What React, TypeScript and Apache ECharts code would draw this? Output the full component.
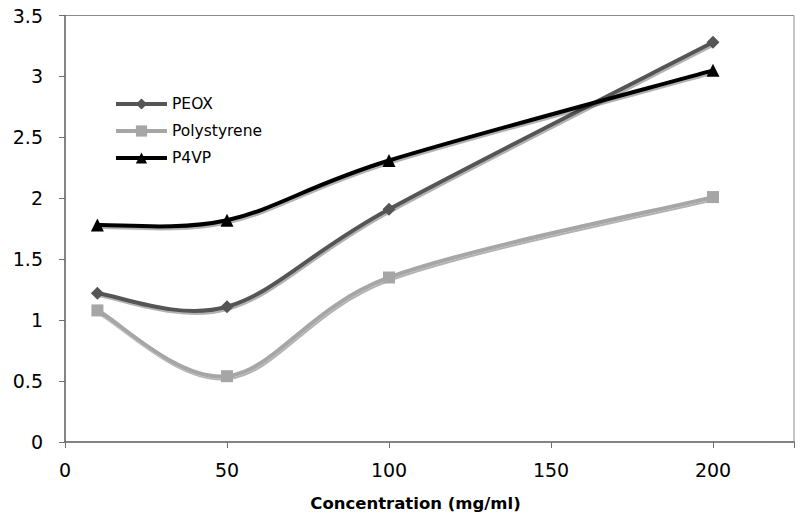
import React, { useEffect, useRef } from "react";
import * as echarts from "echarts";

const xValues = [10, 50, 100, 200];
const peox = [1.22, 1.11, 1.91, 3.28];
const polystyrene = [1.08, 0.54, 1.35, 2.01];
const p4vp = [1.78, 1.82, 2.31, 3.05];
const seriesNames = ["PEOX", "Polystyrene", "P4VP"];
const xTitle = "Concentration (mg/ml)";

const FONT = "DejaVu Sans, Verdana, sans-serif";
const colors = ["#555555", "#a6a6a6", "#000000"];
const symbols = ["diamond", "rect", "triangle"];
const symbolSizes = [13, 12, 13];
const allValues = [peox, polystyrene, p4vp];

// Excel-style smoothed curve (Catmull-Rom -> cubic Bezier) through the axis-mapped points
function curvePath(pts: number[][]): string {
  let d = `M${pts[0][0]},${pts[0][1]}`;
  for (let i = 0; i < pts.length - 1; i++) {
    const p0 = pts[i - 1] || pts[i];
    const p1 = pts[i];
    const p2 = pts[i + 1];
    const p3 = pts[i + 2] || pts[i + 1];
    const c1x = p1[0] + (p2[0] - p0[0]) / 6;
    const c1y = p1[1] + (p2[1] - p0[1]) / 6;
    const c2x = p2[0] - (p3[0] - p1[0]) / 6;
    const c2y = p2[1] - (p3[1] - p1[1]) / 6;
    d += ` C${c1x},${c1y} ${c2x},${c2y} ${p2[0]},${p2[1]}`;
  }
  return d;
}

export default function App() {
  const ref = useRef<HTMLDivElement>(null);
  useEffect(() => {
    if (!ref.current) return;
    const chart = echarts.init(ref.current, undefined, { renderer: "svg" });

    const curveSeries = allValues.map((vals, k) => ({
      name: seriesNames[k] + " curve",
      type: "custom",
      data: xValues.map((x, i) => [x, vals[i]]),
      encode: { x: 0, y: 1 },
      z: 2,
      silent: true,
      renderItem: (params: any, api: any) => {
        if (params.dataIndex !== 0) return null;
        const pts = xValues.map((x, i) => api.coord([x, vals[i]]));
        return {
          type: "path",
          shape: { pathData: curvePath(pts) },
          style: {
            fill: "none",
            stroke: colors[k],
            lineWidth: 4,
            lineJoin: "round",
            shadowColor: "rgba(0,0,0,0.3)",
            shadowOffsetX: 1,
            shadowOffsetY: 2,
            shadowBlur: 1,
          },
        };
      },
    }));

    const markerSeries = allValues.map((vals, k) => ({
      name: seriesNames[k],
      type: "line",
      data: xValues.map((x, i) => [x, vals[i]]),
      symbol: symbols[k],
      symbolSize: symbolSizes[k],
      showAllSymbol: true,
      itemStyle: { color: colors[k] },
      lineStyle: { color: colors[k], width: 4, opacity: 0 },
      z: 3,
    }));

    chart.setOption({
      animation: false,
      backgroundColor: "#fff",
      grid: {
        left: 65,
        right: 6,
        top: 15.5,
        bottom: 77,
        outerBoundsMode: "none",
        containLabel: false,
        show: true,
        borderColor: "#8c8c8c",
        borderWidth: 1,
        backgroundColor: "transparent",
      },
      legend: {
        orient: "vertical",
        left: 109,
        top: 91,
        itemWidth: 51,
        itemHeight: 14,
        itemGap: 11,
        textStyle: { fontFamily: FONT, fontSize: 15.5, lineHeight: 14, color: "#000" },
        data: seriesNames.map((n, k) => ({
          name: n,
          lineStyle: { color: colors[k], width: 4, opacity: 1 },
          itemStyle: { color: colors[k] },
        })),
      },
      xAxis: {
        type: "value",
        min: 0,
        max: 225,
        interval: 50,
        name: xTitle,
        nameLocation: "middle",
        nameGap: 53,
        nameTextStyle: {
          fontFamily: FONT,
          fontSize: 16.5,
          fontWeight: "bold",
          color: "#000",
          padding: [0, 28, 0, 0],
        },
        axisLine: { show: true, lineStyle: { color: "#6e6e6e", width: 1.5 } },
        axisTick: { show: true, length: 6, lineStyle: { color: "#6e6e6e" } },
        axisLabel: {
          fontFamily: FONT,
          fontSize: 19,
          color: "#000",
          margin: 18,
          formatter: (v: number) => (v % 50 === 0 ? String(v) : ""),
        },
        splitLine: { show: false },
      },
      yAxis: {
        type: "value",
        min: 0,
        max: 3.5,
        interval: 0.5,
        axisLine: { show: true, lineStyle: { color: "#6e6e6e", width: 1.5 } },
        axisTick: { show: true, length: 6, lineStyle: { color: "#6e6e6e" } },
        axisLabel: { fontFamily: FONT, fontSize: 19, color: "#000", margin: 22 },
        splitLine: { show: false },
      },
      series: [...curveSeries, ...markerSeries],
    });
    return () => chart.dispose();
  }, []);
  return <div ref={ref} style={{ width: 800, height: 519, position: "absolute", left: 0, top: 0 }} />;
}
